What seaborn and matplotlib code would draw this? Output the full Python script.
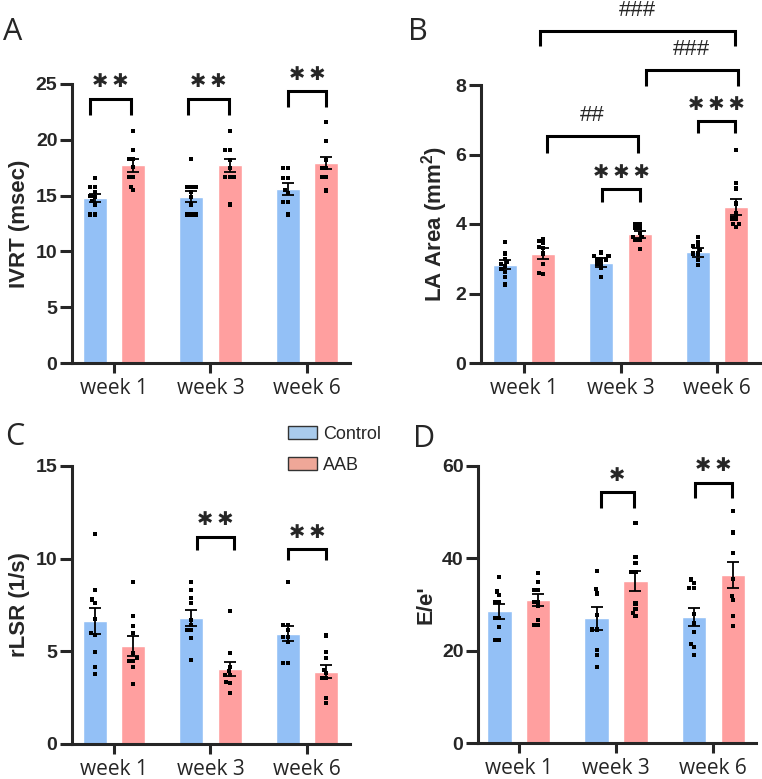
import numpy as np
import pandas as pd
import seaborn as sns
import matplotlib.pyplot as plt
from matplotlib.patches import Patch

weeks = ["week 1", "week 3", "week 6"]
groups = ["Control", "AAB"]
bar_colors = ["#93C0F6", "#FF9F9F"]
legend_colors = ["#A9CBEC", "#EFA798"]

# A - IVRT (msec)
ivrt_mean_ctrl = [14.8, 14.9, 15.6]
ivrt_mean_aab = [17.7, 17.7, 17.9]
ivrt_sem_ctrl = [0.38, 0.47, 0.52]
ivrt_sem_aab = [0.58, 0.55, 0.55]
ivrt_pts_ctrl = [[16.6, 15.8, 15.8, 15.35, 15.0, 14.9, 14.5, 14.2, 13.3, 13.3],
                 [18.3, 15.8, 15.8, 15.8, 15.35, 14.9, 14.2, 13.3, 13.3, 13.3],
                 [17.45, 17.45, 16.55, 16.55, 15.5, 15.2, 14.46, 14.46, 13.3]]
ivrt_pts_aab = [[20.8, 19.1, 18.3, 18.3, 17.6, 16.7, 16.7, 15.8, 15.5],
                [20.8, 19.1, 19.1, 18.2, 17.45, 16.7, 16.7, 16.7, 14.2],
                [21.6, 19.9, 18.2, 17.45, 17.45, 16.7, 16.7, 15.45]]

# B - LA Area (mm2)
la_mean_ctrl = [2.83, 2.89, 3.18]
la_mean_aab = [3.15, 3.70, 4.50]
la_sem_ctrl = [0.12, 0.12, 0.125]
la_sem_aab = [0.15, 0.11, 0.23]
la_pts_ctrl = [[3.49, 3.15, 3.0, 2.9, 2.86, 2.8, 2.7, 2.62, 2.48, 2.26],
               [3.18, 3.07, 3.07, 2.98, 2.98, 2.98, 2.86, 2.86, 2.74, 2.48],
               [3.63, 3.49, 3.37, 3.37, 3.25, 3.15, 3.15, 2.96, 2.81]]
la_pts_aab = [[3.58, 3.5, 3.45, 3.35, 3.3, 3.15, 2.86, 2.6, 2.55],
              [4.01, 4.01, 3.89, 3.89, 3.73, 3.63, 3.63, 3.53, 3.53, 3.27],
              [6.13, 5.17, 5.02, 4.59, 4.3, 4.16, 4.16, 4.01, 4.01, 3.92]]

# C - rLSR (1/s)
lsr_mean_ctrl = [6.65, 6.78, 5.94]
lsr_mean_aab = [5.30, 4.05, 3.90]
lsr_sem_ctrl = [0.70, 0.43, 0.40]
lsr_sem_aab = [0.54, 0.40, 0.34]
lsr_pts_ctrl = [[11.33, 8.3, 7.8, 7.63, 6.74, 6.0, 5.88, 4.98, 4.17, 3.78],
                [8.76, 8.3, 7.9, 7.63, 6.69, 6.42, 6.15, 6.15, 5.7, 4.53],
                [8.76, 6.42, 6.42, 6.15, 5.79, 5.79, 5.52, 4.35, 4.35]]
lsr_pts_aab = [[8.76, 6.9, 6.38, 5.97, 4.9, 4.62, 4.5, 4.5, 4.17, 3.24],
               [7.19, 4.89, 4.17, 3.94, 3.72, 3.72, 3.36, 3.27, 2.73],
               [5.85, 4.98, 4.62, 3.99, 3.81, 3.54, 3.54, 2.46, 2.23]]

# D - E/e'
ee_mean_ctrl = [28.56, 26.97, 27.26]
ee_mean_aab = [30.95, 35.07, 36.4]
ee_sem_ctrl = [1.65, 2.45, 2.0]
ee_sem_aab = [1.28, 2.15, 2.85]
ee_pts_ctrl = [[35.9, 32.8, 32.0, 30.6, 30.6, 27.0, 27.0, 25.2, 22.3, 22.3],
               [37.2, 33.3, 32.4, 27.7, 24.6, 24.6, 20.1, 19.0, 16.5],
               [35.4, 34.7, 33.5, 33.5, 27.9, 25.9, 24.1, 21.5, 20.8, 19.0]]
ee_pts_aab = [[36.9, 34.9, 33.1, 33.1, 30.6, 30.6, 29.6, 26.6, 25.5, 25.5],
              [47.6, 40.2, 39.0, 37.1, 37.1, 30.2, 29.1, 28.2, 27.5],
              [50.3, 45.6, 41.1, 35.6, 31.8, 30.9, 27.5, 25.3]]

# brackets: (x left, x right, top, leg end, label)
ivrt_brackets = [(-0.25, 0.18, 23.7, 22.25, "**"),
                 (0.77, 1.19, 23.7, 22.25, "**"),
                 (1.8, 2.2, 24.4, 22.9, "**")]
la_brackets = [(0.24, 1.18, 6.53, 6.03, "##"),
               (0.81, 1.2, 5.0, 4.62, "***"),
               (1.8, 2.19, 6.97, 6.61, "***"),
               (1.26, 2.22, 8.43, 7.97, "###"),
               (0.17, 2.19, 9.56, 9.11, "###")]
lsr_brackets = [(0.86, 1.24, 11.19, 10.47, "**"),
                (1.8, 2.2, 10.5, 9.93, "**")]
ee_brackets = [(0.845, 1.18, 54.4, 51.0, "*"),
               (1.81, 2.19, 56.4, 53.0, "**")]

sns.set_theme(style="ticks")
plt.rcParams["font.family"] = ["Liberation Sans", "DejaVu Sans"]
plt.rcParams["mathtext.fontset"] = "custom"
plt.rcParams["mathtext.rm"] = "Liberation Sans:bold"
plt.rcParams["mathtext.default"] = "rm"

W, H = 762, 779
fig = plt.figure(figsize=(W / 100, H / 100), dpi=100)


def px_axes(left, top, right, bottom):
    return fig.add_axes([left / W, 1 - bottom / H, (right - left) / W, (bottom - top) / H])


def panel(ax, mean_c, mean_a, sem_c, sem_a, pts_c, pts_a, brackets, ylim, yticks, ylabel, xlim):
    means = pd.DataFrame({"week": weeks * 2,
                          "group": [groups[0]] * 3 + [groups[1]] * 3,
                          "value": mean_c + mean_a})
    rows = []
    for g, pts in zip(groups, [pts_c, pts_a]):
        for w, vals in zip(weeks, pts):
            for v in vals:
                rows.append((w, g, v))
    points = pd.DataFrame(rows, columns=["week", "group", "value"])

    sns.barplot(data=means, x="week", y="value", hue="group", order=weeks, hue_order=groups,
                palette=bar_colors, saturation=1, width=0.8, gap=0.375, errorbar=None,
                legend=False, ax=ax, zorder=1)
    sns.swarmplot(data=points, x="week", y="value", hue="group", order=weeks, hue_order=groups,
                  dodge=True, palette=["black", "black"], size=3, marker="s", linewidth=0,
                  legend=False, ax=ax, zorder=3)
    for off, m, s in [(-0.2, mean_c, sem_c), (0.2, mean_a, sem_a)]:
        ax.errorbar(np.arange(3) + off, m, yerr=s, fmt="none", ecolor="black",
                    elinewidth=1.3, capsize=4, capthick=1.3, zorder=4)

    for x1, x2, top, leg, lab in brackets:
        ax.plot([x1, x1, x2, x2], [leg, top, top, leg], color="black", lw=2.2,
                clip_on=False, solid_joinstyle="miter", solid_capstyle="butt")
        if "*" in lab:
            stars = "\u2009".join("\u2731" * len(lab))
            ax.annotate(stars, ((x1 + x2) / 2, top), xytext=(0, 12), textcoords="offset points",
                        ha="center", va="center", fontsize=14,
                        family="DejaVu Sans", annotation_clip=False)
        else:
            ax.annotate(lab, ((x1 + x2) / 2, top), xytext=(0, 7), textcoords="offset points",
                        ha="center", va="bottom", fontsize=16, annotation_clip=False)

    ax.set_xlim(*xlim)
    ax.set_ylim(*ylim)
    ax.set_yticks(yticks)
    ax.set_yticklabels([str(v) for v in yticks], fontweight="bold", fontsize=14)
    ax.set_xticks(range(len(weeks)))
    ax.set_xticklabels(weeks, family="Open Sans", fontsize=15)
    ax.set_xlabel("")
    ax.set_ylabel(ylabel, fontsize=16, fontweight="bold", labelpad=4)
    sns.despine(ax=ax)
    for sp in ["left", "bottom"]:
        ax.spines[sp].set_linewidth(2.2)
    ax.tick_params(axis="y", length=8.5, width=2.2, pad=2)
    ax.tick_params(axis="x", length=7, width=2.2, pad=4)


axA = px_axes(72, 84, 350, 363)
panel(axA, ivrt_mean_ctrl, ivrt_mean_aab, ivrt_sem_ctrl, ivrt_sem_aab, ivrt_pts_ctrl, ivrt_pts_aab,
      ivrt_brackets, (0, 25), [0, 5, 10, 15, 20, 25], "IVRT (msec)", (-0.435, 2.446))

axB = px_axes(481, 85, 761, 363)
panel(axB, la_mean_ctrl, la_mean_aab, la_sem_ctrl, la_sem_aab, la_pts_ctrl, la_pts_aab,
      la_brackets, (0, 8), [0, 2, 4, 6, 8], r"LA Area (mm$^{2}$)", (-0.446, 2.456))

axC = px_axes(72, 466, 350, 744)
panel(axC, lsr_mean_ctrl, lsr_mean_aab, lsr_sem_ctrl, lsr_sem_aab, lsr_pts_ctrl, lsr_pts_aab,
      lsr_brackets, (0, 15), [0, 5, 10, 15], "rLSR (1/s)", (-0.435, 2.446))

axD = px_axes(478, 466, 756, 743)
panel(axD, ee_mean_ctrl, ee_mean_aab, ee_sem_ctrl, ee_sem_aab, ee_pts_ctrl, ee_pts_aab,
      ee_brackets, (0, 60), [0, 20, 40, 60], "E/e'", (-0.42, 2.44))

for lab, x, y in [("A", 3, 40), ("B", 408, 40), ("C", 5, 445), ("D", 413, 447)]:
    fig.text(x / W, 1 - y / H, lab, fontsize=22, family="Open Sans", va="baseline", ha="left")

handles = [Patch(facecolor=c, edgecolor="#333333", linewidth=1, label=g)
           for g, c in zip(groups, legend_colors)]
fig.legend(handles=handles, loc="upper left", bbox_to_anchor=(288 / W, 1 - 426 / H),
           frameon=False, fontsize=13, handlelength=1.6, handleheight=0.75,
           handletextpad=0.35, labelspacing=0.75, borderpad=0, borderaxespad=0)

fig.savefig("out.png", dpi=100)
